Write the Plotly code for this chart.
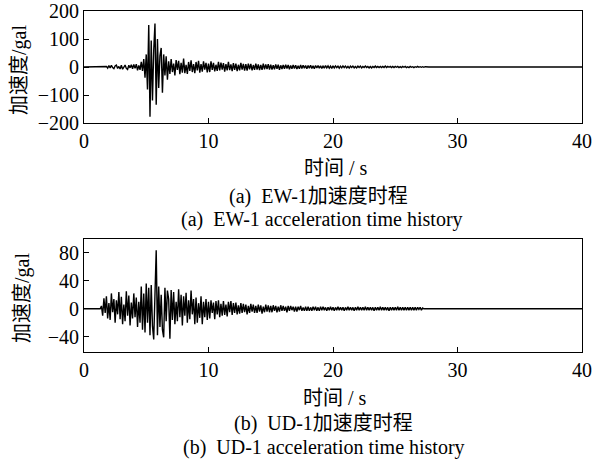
import numpy as np
import plotly.graph_objects as go

# time grid (s), 0.1 s step
t_ew = np.round(np.arange(0, 40.01, 0.1), 1)
t_ud = np.round(np.arange(0, 40.01, 0.1), 1)

# EW-1 acceleration (gal)
ew_pre = [0] * 18  # 0.0 - 1.7
ew_active = [
    2, -4,
    5, -3, 6, -2, -6, 4, 7, -5, 2, -7,
    6, -8, 3, 7, -5, -9, 6, -3, 8, -6,
    9, -5, 10, -12, 6, -10, 18, -14, 28, -38,
    45, -80, 150, -178, 95, -120, 60, 155, -135, 100,
    -75, 40, 68, -92, 45, -30, 38, -45, 20, -25,
    28, -18, 12, -30, 25, -10, 22, -26, 15, -20,
    30, -22, 8, -25, 18, -14, 24, -18, 10, -22,
    18, -12, 22, -20, 10, -17, 20, -9, 15, -19,
    12, -18, 20, -10, 15, -16, 8, -14, 18, -12,
    16, -9, 14, -17, 10, -12, 18, -11, 9, -15,
    14, -10, 12, -15, 8, -12, 15, -9, 11, -13,
    10, -13, 12, -8, 11, -12, 7, -10, 12, -9,
    9, -11, 7, -10, 12, -8, 9, -7, 10, -9,
    8, -9, 6, -8, 9, -6, 8, -10, 6, -7,
    7, -6, 8, -5, 7, -8, 5, -6, 7, -5,
    6, -7, 4, -6, 7, -5, 6, -4, 5, -6,
    5, -4, 6, -5, 4, -6, 5, -3, 5, -4,
    4, -5, 3, -4, 5, -3, 4, -4, 3, -5,
    4, -3, 4, -2, 3, -4, 3, -3, 4, -2,
    3, -3, 2, -4, 3, -2, 3, -3, 2, -3,
    3, -2, 3, -3, 2, -2, 3, -2, 2, -3,
    2, -3, 2, -2, 3, -2, 2, -2, 2, -2,
    2, -2, 3, -2, 2, -1, 2, -2, 2, -2,
    2, -1, 2, -2, 1, -2, 2, -1, 2, -2,
    1, -2, 2, -1, 1, -2, 1, -1, 2, -1,
    1, -1, 1, -1, 1,
]
ew_post = [0] * (len(t_ew) - len(ew_pre) - len(ew_active))
ew_vals = ew_pre + ew_active + ew_post

# UD-1 acceleration (gal)
ud_pre = [0] * 14  # 0.0 - 1.3
ud_active = [
    4, -10, 15, -6, 18, -14,
    8, -16, 22, -5, 14, -20, 12, -8, 24, -15,
    17, -22, 6, -18, 25, -10, 19, -24, 9, -14,
    22, -12, 16, -26, 10, -20, 32, -30, 22, -34,
    36, -20, 30, -38, 34, -25, -44, 37, 84, -38,
    32, -26, 20, -30, -41, 30, -18, 26, 14, -43,
    27, -16, 24, -22, 10, -18, 28, -12, 20, -24,
    18, -10, 23, -20, 12, -15, 26, -8, 14, -22,
    16, -20, 8, -13, 18, -22, 10, -12, 14, -16,
    10, -14, 12, -6, 9, -15, 11, -8, 12, -12,
    7, -10, 11, -9, 6, -11, 10, -5, 11, -9,
    8, -6, 9, -8, 5, -7, 8, -6, 7, -5,
    6, -8, 4, -6, 7, -4, 6, -6, 4, -6,
    6, -4, 5, -7, 3, -5, 6, -4, 5, -5,
    4, -5, 5, -3, 4, -5, 3, -4, 5, -3,
    4, -3, 3, -5, 4, -3, 4, -2, 3, -4,
    3, -4, 3, -2, 4, -3, 2, -3, 3, -3,
    3, -3, 2, -3, 3, -2, 3, -3, 2, -3,
    3, -2, 3, -2, 2, -3, 2, -2, 3, -2,
    2, -3, 2, -2, 3, -2, 2, -2, 2, -3,
    2, -2, 3, -2, 2, -2, 2, -3, 2, -2,
    3, -2, 2, -2, 2, -2, 3, -2, 2, -2,
    2, -2, 2, -3, 2, -2, 2, -2, 3, -2,
    2, -2, 2, -2, 2, -3, 2, -2, 2, -2,
    2, -2, 3, -2, 2, -2, 2, -2, 2, -2,
    2, -2, 2, -2, 2, -2, 2, -2, 2, -1,
    2, -2, 1,
]
ud_post = [0] * (len(t_ud) - len(ud_pre) - len(ud_active))
ud_vals = ud_pre + ud_active + ud_post

x_ticks = [0, 10, 20, 30, 40]
ew_ticks = [-200, -100, 0, 100, 200]
ud_ticks = [-40, 0, 40, 80]

W, H = 593, 461
def px_x(p):
    return p / W
def px_y(p):
    return 1 - p / H

SERIF = "Liberation Serif, Times New Roman, serif"
CJK = "Liberation Serif, Noto Sans CJK SC, serif"

fig = go.Figure()
fig.add_trace(go.Scatter(x=t_ew, y=ew_vals, mode="lines",
                         line=dict(color="black", width=1.4),
                         xaxis="x", yaxis="y", showlegend=False))
fig.add_trace(go.Scatter(x=t_ud, y=ud_vals, mode="lines",
                         line=dict(color="black", width=1.4),
                         xaxis="x2", yaxis="y2", showlegend=False))

axis_common = dict(showline=True, linecolor="black", linewidth=1, mirror=True,
                   ticks="inside", ticklen=5, tickcolor="black", tickwidth=1,
                   showgrid=False, zeroline=False, automargin=False,
                   tickfont=dict(family=SERIF, size=20, color="black"))

def neg(v):
    return ("\u2212" + str(-v)) if v < 0 else str(v)

xdom = [px_x(84), px_x(582)]
fig.update_layout(
    template="none",
    width=W, height=H,
    margin=dict(l=0, r=0, t=0, b=0, autoexpand=False),
    paper_bgcolor="white", plot_bgcolor="white",
    xaxis=dict(domain=xdom, range=[0, 40], tickvals=x_ticks, anchor="y", **axis_common),
    yaxis=dict(domain=[px_y(123), px_y(11)], range=[-200, 200], tickvals=ew_ticks,
               ticktext=[neg(v) for v in ew_ticks], anchor="x", **axis_common),
    xaxis2=dict(domain=xdom, range=[0, 40], tickvals=x_ticks, anchor="y2", **axis_common),
    yaxis2=dict(domain=[px_y(352), px_y(239)], range=[-62, 100], tickvals=ud_ticks,
                ticktext=[neg(v) for v in ud_ticks], anchor="x2", **axis_common),
)

def ann(text, xp, yp, size=20, angle=0, font=CJK):
    fig.add_annotation(text=text, x=px_x(xp), y=px_y(yp), xref="paper", yref="paper",
                       showarrow=False, textangle=angle, xanchor="center", yanchor="middle",
                       font=dict(family=font, size=size, color="black"))

ann("时间 / s", 336, 168)
ann("(a)  EW-1加速度时程", 318, 196)
ann("(a)  EW-1 acceleration time history", 322, 219)
ann("加速度/gal", 20, 70, angle=-90)

ann("时间 / s", 335, 398)
ann("(b)  UD-1加速度时程", 323, 423)
ann("(b)  UD-1 acceleration time history", 324, 447)
ann("加速度/gal", 22, 298, angle=-90)

fig.write_html("out.html",
               config={"displayModeBar": False},
               post_script="document.body.style.margin='0px';document.body.style.overflow='hidden';")
